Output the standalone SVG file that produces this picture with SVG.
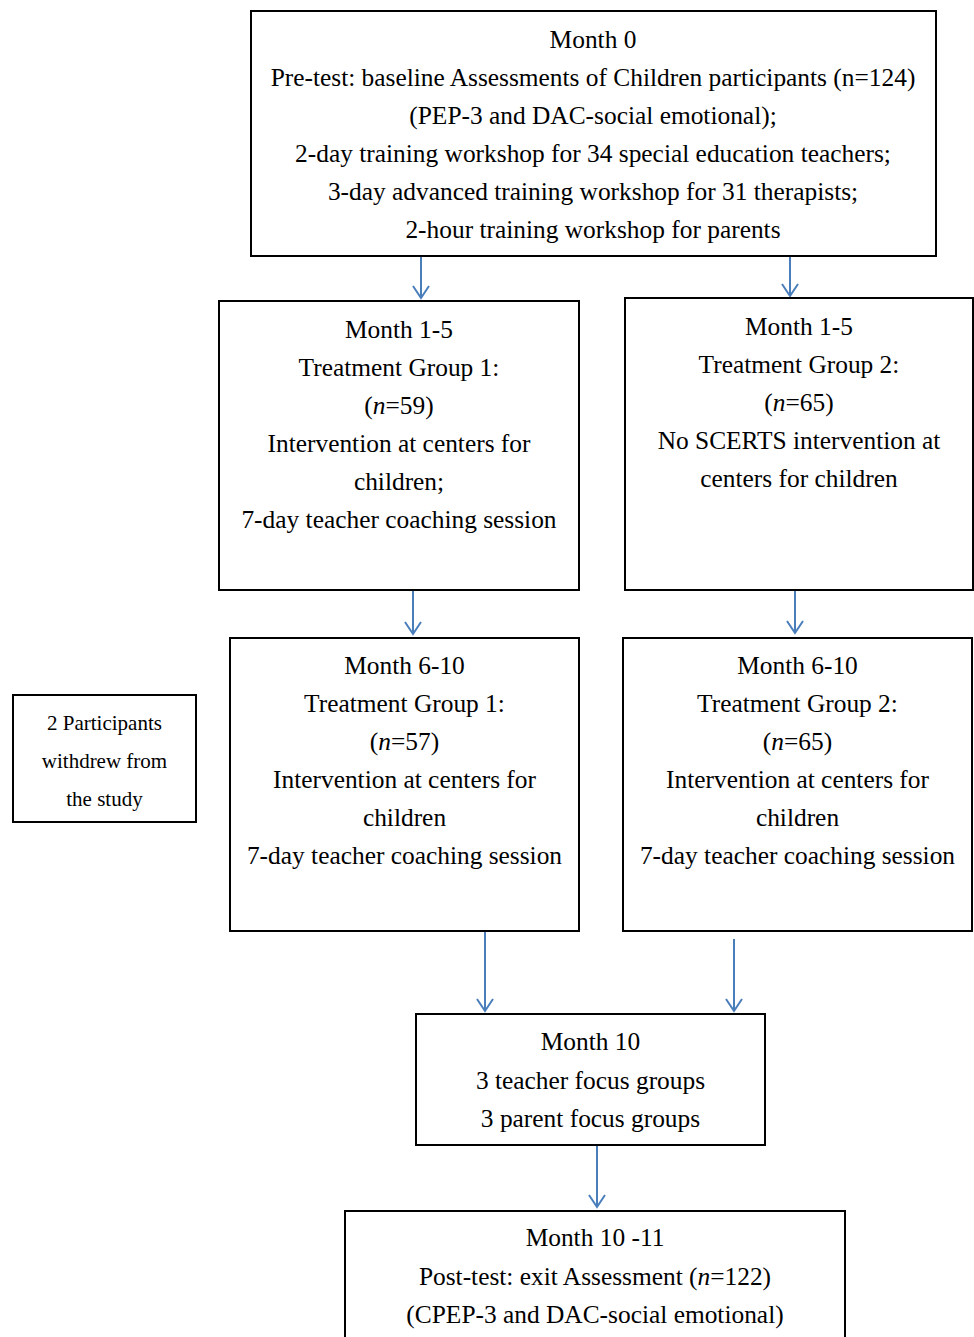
<svg xmlns="http://www.w3.org/2000/svg" width="974" height="1337" viewBox="0 0 974 1337">
<style>
.box{fill:#fff;stroke:#000;stroke-width:2}
.t{font-family:"Liberation Serif","Times New Roman",serif;font-size:25.4px;fill:#000;text-anchor:middle}
.s{font-family:"Liberation Serif","Times New Roman",serif;font-size:21px;fill:#000;text-anchor:middle}
.c{stroke:#4a7ebb;stroke-width:2;fill:none}
.i{font-style:italic}
</style>
<defs>
<marker id="ah" markerUnits="userSpaceOnUse" markerWidth="20" markerHeight="20" refX="14" refY="10" orient="auto" viewBox="0 0 20 20">
<path d="M2 2 L14 10 L2 18" fill="none" stroke="#4a7ebb" stroke-width="2"/>
</marker>
</defs>
<rect width="974" height="1337" fill="#fff"/>
<g id="connectors">
<line class="c" x1="421" y1="257" x2="421" y2="298" marker-end="url(#ah)"/>
<line class="c" x1="790" y1="257" x2="790" y2="296" marker-end="url(#ah)"/>
<line class="c" x1="413" y1="591" x2="413" y2="634" marker-end="url(#ah)"/>
<line class="c" x1="795" y1="591" x2="795" y2="633" marker-end="url(#ah)"/>
<line class="c" x1="485" y1="932" x2="485" y2="1011" marker-end="url(#ah)"/>
<line class="c" x1="734" y1="939" x2="734" y2="1011" marker-end="url(#ah)"/>
<line class="c" x1="597" y1="1146" x2="597" y2="1207" marker-end="url(#ah)"/>
</g>
<g id="month0">
<rect class="box" x="251" y="11" width="685" height="245"/>
<text class="t" x="593" y="48">Month 0</text>
<text class="t" x="593" y="86">Pre-test: baseline Assessments of Children participants (n=124)</text>
<text class="t" x="593" y="124">(PEP-3 and DAC-social emotional);</text>
<text class="t" x="593" y="162">2-day training workshop for 34 special education teachers;</text>
<text class="t" x="593" y="200">3-day advanced training workshop for 31 therapists;</text>
<text class="t" x="593" y="238">2-hour training workshop for parents</text>
</g>
<g id="tg1-m1-5">
<rect class="box" x="219" y="301" width="360" height="289"/>
<text class="t" x="399" y="338">Month 1-5</text>
<text class="t" x="399" y="376">Treatment Group 1:</text>
<text class="t" x="399" y="414">(<tspan class="i">n</tspan>=59)</text>
<text class="t" x="399" y="452">Intervention at centers for</text>
<text class="t" x="399" y="490">children;</text>
<text class="t" x="399" y="528">7-day teacher coaching session</text>
</g>
<g id="tg2-m1-5">
<rect class="box" x="625" y="298" width="348" height="292"/>
<text class="t" x="799" y="335">Month 1-5</text>
<text class="t" x="799" y="373">Treatment Group 2:</text>
<text class="t" x="799" y="411">(<tspan class="i">n</tspan>=65)</text>
<text class="t" x="799" y="449">No SCERTS intervention at</text>
<text class="t" x="799" y="487">centers for children</text>
</g>
<g id="withdrew">
<rect class="box" x="13" y="695" width="183" height="127"/>
<text class="s" x="104.5" y="730">2 Participants</text>
<text class="s" x="104.5" y="768">withdrew from</text>
<text class="s" x="104.5" y="806">the study</text>
</g>
<g id="tg1-m6-10">
<rect class="box" x="230" y="638" width="349" height="293"/>
<text class="t" x="404.5" y="674">Month 6-10</text>
<text class="t" x="404.5" y="712">Treatment Group 1:</text>
<text class="t" x="404.5" y="750">(<tspan class="i">n</tspan>=57)</text>
<text class="t" x="404.5" y="788">Intervention at centers for</text>
<text class="t" x="404.5" y="826">children</text>
<text class="t" x="404.5" y="864">7-day teacher coaching session</text>
</g>
<g id="tg2-m6-10">
<rect class="box" x="623" y="638" width="349" height="293"/>
<text class="t" x="797.5" y="674">Month 6-10</text>
<text class="t" x="797.5" y="712">Treatment Group 2:</text>
<text class="t" x="797.5" y="750">(<tspan class="i">n</tspan>=65)</text>
<text class="t" x="797.5" y="788">Intervention at centers for</text>
<text class="t" x="797.5" y="826">children</text>
<text class="t" x="797.5" y="864">7-day teacher coaching session</text>
</g>
<g id="month10">
<rect class="box" x="416" y="1014" width="349" height="131"/>
<text class="t" x="590.5" y="1050">Month 10</text>
<text class="t" x="590.5" y="1089">3 teacher focus groups</text>
<text class="t" x="590.5" y="1127">3 parent focus groups</text>
</g>
<g id="month10-11">
<rect class="box" x="345" y="1211" width="500" height="140"/>
<text class="t" x="595" y="1246">Month 10 -11</text>
<text class="t" x="595" y="1285">Post-test: exit Assessment (<tspan class="i">n</tspan>=122)</text>
<text class="t" x="595" y="1323">(CPEP-3 and DAC-social emotional)</text>
</g>
</svg>
